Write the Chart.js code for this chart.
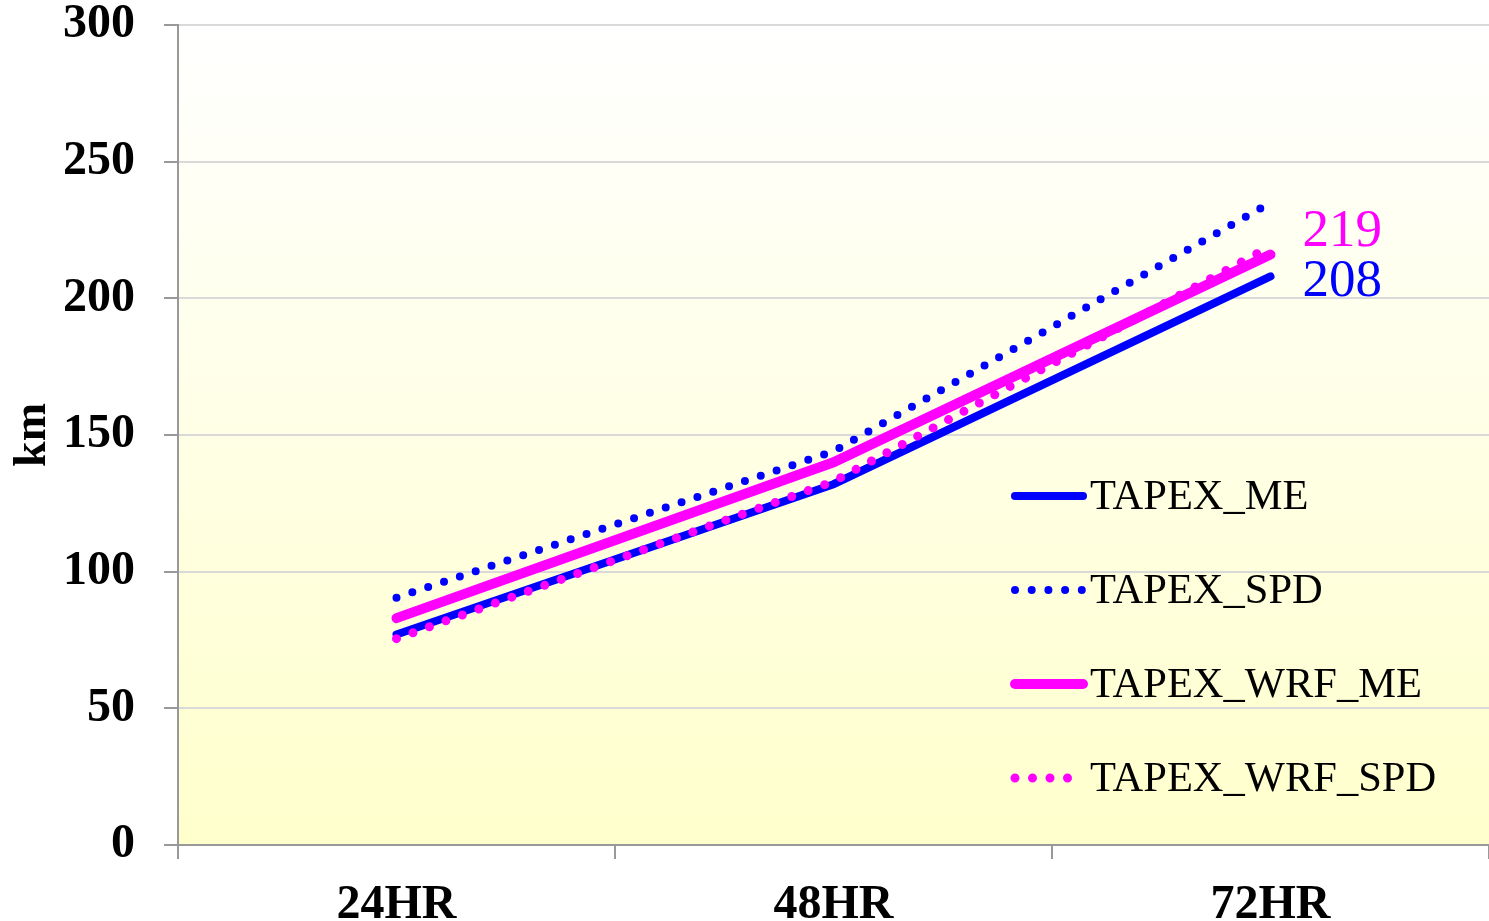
<!DOCTYPE html>
<html>
<head>
<meta charset="utf-8">
<script src="https://cdn.jsdelivr.net/npm/chart.js@4/dist/chart.umd.min.js"></script>
<style>
  html, body { margin: 0; padding: 0; background: #ffffff; }
  #wrap { width: 1489px; height: 921px; position: relative; }
</style>
</head>
<body>
<div id="wrap"><canvas id="c"></canvas></div>
<script>
// Forecast lead times
const categories = ['24HR', '48HR', '72HR'];

// Track errors (km) per method
const tapexMe     = [77, 132, 208];
const tapexSpd    = [90.5, 144, 235];
const tapexWrfMe  = [83, 140, 216];
const tapexWrfSpd = [75.5, 133, 219];

// Y axis ticks
const yTicks = [0, 50, 100, 150, 200, 250, 300];

// Series whose final value is annotated at the right end
const endLabels = [
  { series: 3, dy: -14, color: '#ff00ff' },
  { series: 0, dy: 6, color: '#0000ff' }
];

const SERIF = "'Liberation Serif', 'Times New Roman', serif";
Chart.defaults.font.family = SERIF;

// Pale gradient behind the plot area
const plotBackground = {
  id: 'plotBackground',
  beforeDraw(chart) {
    const { ctx, chartArea: a } = chart;
    const g = ctx.createLinearGradient(0, a.top, 0, a.bottom);
    g.addColorStop(0, '#ffffff');
    g.addColorStop(1, '#ffffcc');
    ctx.save();
    ctx.fillStyle = g;
    ctx.fillRect(a.left, a.top, a.right - a.left, a.bottom - a.top);
    ctx.restore();
  }
};

// Legend drawn inside the plot, one row per series
const innerLegend = {
  id: 'innerLegend',
  afterDatasetsDraw(chart) {
    const { ctx } = chart;
    const x0 = 1015, x1 = 1083, tx = 1090, y0 = 496, step = 94;
    chart.data.datasets.forEach((ds, i) => {
      const y = y0 + i * step;
      ctx.save();
      ctx.strokeStyle = ds.borderColor;
      ctx.lineWidth = ds.borderWidth;
      ctx.lineCap = 'round';
      ctx.setLineDash(ds.borderDash || []);
      ctx.beginPath();
      ctx.moveTo(x0, y);
      ctx.lineTo(x1, y);
      ctx.stroke();
      ctx.setLineDash([]);
      ctx.fillStyle = '#000000';
      ctx.font = '42.5px ' + SERIF;
      ctx.textAlign = 'left';
      ctx.textBaseline = 'middle';
      ctx.fillText(ds.label, tx, y + 2);
      ctx.restore();
    });
  }
};

// Final-value annotations
const endValueLabels = {
  id: 'endValueLabels',
  afterDatasetsDraw(chart) {
    const { ctx } = chart;
    endLabels.forEach(l => {
      const ds = chart.data.datasets[l.series];
      const meta = chart.getDatasetMeta(l.series);
      const last = meta.data[meta.data.length - 1];
      const v = ds.data[ds.data.length - 1];
      ctx.save();
      ctx.fillStyle = l.color;
      ctx.font = '53px ' + SERIF;
      ctx.textAlign = 'left';
      ctx.textBaseline = 'middle';
      ctx.fillText(String(v), last.x + 32, last.y + l.dy);
      ctx.restore();
    });
  }
};

new Chart(document.getElementById('c'), {
  type: 'line',
  data: {
    labels: categories,
    datasets: [
      { label: 'TAPEX_ME', data: tapexMe, borderColor: '#0000ff', borderWidth: 8,
        borderCapStyle: 'round', pointRadius: 0, tension: 0, order: 3 },
      { label: 'TAPEX_SPD', data: tapexSpd, borderColor: '#0000ff', borderWidth: 8,
        borderDash: [0, 16.7], borderCapStyle: 'round', pointRadius: 0, tension: 0, order: 2 },
      { label: 'TAPEX_WRF_ME', data: tapexWrfMe, borderColor: '#ff00ff', borderWidth: 10,
        borderCapStyle: 'round', pointRadius: 0, tension: 0, order: 1 },
      { label: 'TAPEX_WRF_SPD', data: tapexWrfSpd, borderColor: '#ff00ff', borderWidth: 9,
        borderDash: [0, 17.5], borderCapStyle: 'round', pointRadius: 0, tension: 0, order: 0 }
    ]
  },
  options: {
    responsive: true,
    maintainAspectRatio: false,
    animation: false,
    layout: { padding: { top: 25, right: 0, left: 0, bottom: 0 } },
    plugins: {
      legend: { display: false },
      tooltip: { enabled: false }
    },
    scales: {
      x: {
        offset: true,
        grid: {
          offset: true,
          drawOnChartArea: false,
          drawTicks: true,
          tickLength: 14,
          tickColor: '#999999',
          lineWidth: 2
        },
        border: { color: '#999999', width: 2 },
        ticks: {
          color: '#000000',
          font: { size: 48, weight: 'bold', family: SERIF },
          padding: 18,
          maxRotation: 0
        },
        afterFit(scale) { scale.height = 76; }
      },
      y: {
        min: 0,
        max: 300,
        afterBuildTicks(scale) { scale.ticks = yTicks.map(v => ({ value: v })); },
        grid: {
          color: '#d9d9d9',
          lineWidth: 2,
          tickLength: 14,
          tickColor: '#999999'
        },
        border: { color: '#999999', width: 2 },
        ticks: {
          color: '#000000',
          font: { size: 48, weight: 'bold', family: SERIF },
          padding: 29
        },
        title: {
          display: true,
          text: 'km',
          color: '#000000',
          font: { size: 46, weight: 'bold', family: SERIF },
          padding: { top: 6, bottom: 0 }
        },
        afterFit(scale) {
          scale.width = 178;
          // let the layout padding alone decide where the plot area starts
          scale.paddingTop = 0;
          scale.paddingBottom = 0;
        }
      }
    }
  },
  plugins: [plotBackground, innerLegend, endValueLabels]
});
</script>
</body>
</html>
